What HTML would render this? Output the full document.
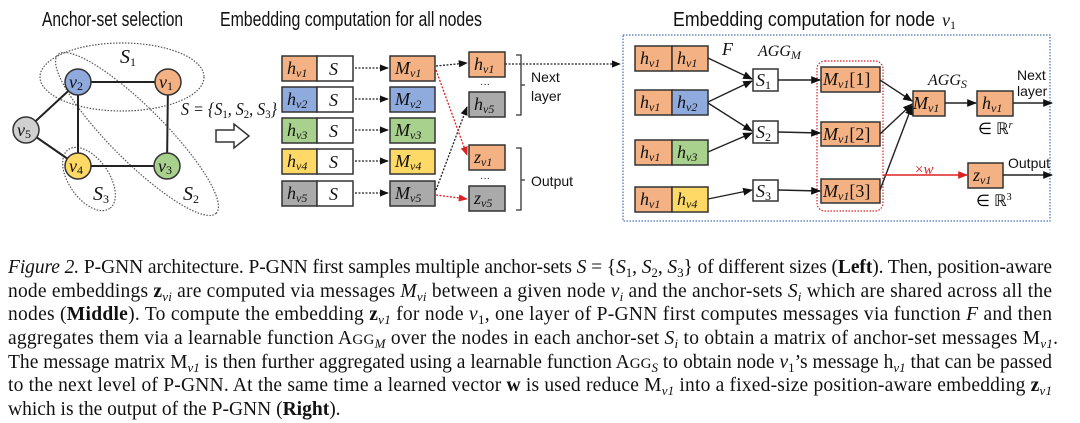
<!DOCTYPE html>
<html><head><meta charset="utf-8"><style>
html,body{margin:0;padding:0;background:#fff;}
svg{display:block;}
.t{font-family:"Liberation Sans",sans-serif;font-size:20px;fill:#111;}
.m{font-family:"Liberation Serif",serif;font-style:italic;font-size:18px;fill:#111;}
.sm{font-size:12px;}
.cap{font-family:"Liberation Serif",serif;font-size:19.5px;fill:#111;}
.lb{font-family:"Liberation Sans",sans-serif;font-size:14px;fill:#111;}
</style></head><body>
<svg width="1080" height="423" viewBox="0 0 1080 423" xmlns="http://www.w3.org/2000/svg">
<defs>
<marker id="a" viewBox="0 0 10 10" refX="9" refY="5" markerWidth="7" markerHeight="7" orient="auto"><path d="M0,1 L10,5 L0,9z" fill="#111"/></marker>
<marker id="r" viewBox="0 0 10 10" refX="9" refY="5" markerWidth="7" markerHeight="7" orient="auto"><path d="M0,1 L10,5 L0,9z" fill="#d22"/></marker>
</defs>
<text class="t" x="42" y="26" textLength="141" lengthAdjust="spacingAndGlyphs">Anchor-set selection</text>
<text class="t" x="220" y="26" textLength="262" lengthAdjust="spacingAndGlyphs">Embedding computation for all nodes</text>
<text class="t" x="673" y="26" textLength="262" lengthAdjust="spacingAndGlyphs">Embedding computation for node</text>
<text class="m" x="942" y="26" font-size="20">v<tspan class="sm" font-style="normal" dy="3">1</tspan></text>

<g fill="none" stroke="#555" stroke-width="1.2" stroke-dasharray="1.5 1.5">
<ellipse cx="122" cy="77" rx="82" ry="34"/>
<ellipse cx="137" cy="134" rx="112" ry="27" transform="rotate(45 137 134)"/>
<ellipse cx="89" cy="179" rx="36" ry="20" transform="rotate(55 89 179)"/>
</g>
<g stroke="#222" stroke-width="2">
<line x1="78" y1="82" x2="168" y2="82"/><line x1="168" y1="82" x2="167" y2="166"/>
<line x1="78" y1="166" x2="167" y2="166"/><line x1="78" y1="82" x2="78" y2="166"/>
<line x1="26" y1="130" x2="78" y2="82"/><line x1="26" y1="130" x2="78" y2="166"/>
</g>
<g stroke="#333" stroke-width="1.5">
<circle cx="78" cy="82" r="13" fill="#8faadc"/><circle cx="168" cy="82" r="13" fill="#f4b183"/>
<circle cx="26" cy="130" r="13" fill="#d0d0d0"/><circle cx="78" cy="166" r="13" fill="#ffd966"/>
<circle cx="167" cy="166" r="13" fill="#a9d18e"/>
</g>
<g class="m" text-anchor="middle">
<text x="76" y="88">v<tspan class="sm" font-style="normal" dy="2">2</tspan></text>
<text x="166" y="88">v<tspan class="sm" font-style="normal" dy="2">1</tspan></text>
<text x="24" y="136">v<tspan class="sm" font-style="normal" dy="2">5</tspan></text>
<text x="76" y="172">v<tspan class="sm" font-style="normal" dy="2">4</tspan></text>
<text x="165" y="172">v<tspan class="sm" font-style="normal" dy="2">3</tspan></text>
<text x="128" y="63" font-size="20">S<tspan class="sm" font-style="normal" dy="3">1</tspan></text>
<text x="191" y="200" font-size="20">S<tspan class="sm" font-style="normal" dy="3">2</tspan></text>
<text x="101" y="200" font-size="20">S<tspan class="sm" font-style="normal" dy="3">3</tspan></text>
</g>
<text class="m" x="181" y="115" font-size="16" textLength="96" lengthAdjust="spacingAndGlyphs">S = {S<tspan class="sm" font-style="normal" dy="3">1</tspan><tspan dy="-3">, S</tspan><tspan class="sm" font-style="normal" dy="3">2</tspan><tspan dy="-3">, S</tspan><tspan class="sm" font-style="normal" dy="3">3</tspan><tspan dy="-3">}</tspan></text>
<path d="M216,130 L234,130 L234,124 L249,136 L234,148 L234,142 L216,142 Z" fill="#fff" stroke="#333" stroke-width="1.5"/>

<g stroke="#333" stroke-width="1.5">
<rect x="282" y="56" width="35" height="25" fill="#f4b183"/><rect x="317" y="56" width="36" height="25" fill="#fff"/>
<rect x="282" y="87" width="35" height="25" fill="#8faadc"/><rect x="317" y="87" width="36" height="25" fill="#fff"/>
<rect x="282" y="118" width="35" height="25" fill="#a9d18e"/><rect x="317" y="118" width="36" height="25" fill="#fff"/>
<rect x="282" y="149" width="35" height="25" fill="#ffd966"/><rect x="317" y="149" width="36" height="25" fill="#fff"/>
<rect x="282" y="181" width="35" height="25" fill="#aaaaaa"/><rect x="317" y="181" width="36" height="25" fill="#fff"/>
<rect x="390" y="56" width="45" height="25" fill="#f4b183"/>
<rect x="390" y="87" width="45" height="25" fill="#8faadc"/>
<rect x="390" y="118" width="45" height="25" fill="#a9d18e"/>
<rect x="390" y="149" width="45" height="25" fill="#ffd966"/>
<rect x="390" y="181" width="45" height="25" fill="#aaaaaa"/>
<rect x="469" y="52" width="36" height="25" fill="#f4b183"/>
<rect x="469" y="92" width="36" height="25" fill="#aaaaaa"/>
<rect x="469" y="145" width="36" height="25" fill="#f4b183"/>
<rect x="469" y="186" width="36" height="25" fill="#aaaaaa"/>
</g>
<g class="m">
<text x="287" y="74">h<tspan class="sm" dy="3">v1</tspan></text>
<text x="287" y="105">h<tspan class="sm" dy="3">v2</tspan></text>
<text x="287" y="136">h<tspan class="sm" dy="3">v3</tspan></text>
<text x="287" y="167">h<tspan class="sm" dy="3">v4</tspan></text>
<text x="287" y="199">h<tspan class="sm" dy="3">v5</tspan></text>
<text x="329" y="75">S</text><text x="329" y="106">S</text><text x="329" y="137">S</text><text x="329" y="168">S</text><text x="329" y="200">S</text>
<text x="395" y="74">M<tspan class="sm" dy="3">v1</tspan></text>
<text x="395" y="105">M<tspan class="sm" dy="3">v2</tspan></text>
<text x="395" y="136">M<tspan class="sm" dy="3">v3</tspan></text>
<text x="395" y="167">M<tspan class="sm" dy="3">v4</tspan></text>
<text x="395" y="199">M<tspan class="sm" dy="3">v5</tspan></text>
<text x="474" y="70">h<tspan class="sm" dy="3">v1</tspan></text>
<text x="474" y="110">h<tspan class="sm" dy="3">v5</tspan></text>
<text x="474" y="163">z<tspan class="sm" dy="3">v1</tspan></text>
<text x="474" y="204">z<tspan class="sm" dy="3">v5</tspan></text>
</g>
<text x="480" y="87" font-family="Liberation Sans" font-size="10">···</text>
<text x="480" y="181" font-family="Liberation Sans" font-size="10">···</text>
<g stroke="#222" stroke-width="1.3" stroke-dasharray="2 1.5" marker-end="url(#a)" fill="none">
<line x1="355" y1="68" x2="388" y2="68"/><line x1="355" y1="99" x2="388" y2="99"/>
<line x1="355" y1="130" x2="388" y2="130"/><line x1="355" y1="161" x2="388" y2="161"/>
<line x1="355" y1="193" x2="388" y2="193"/>
<line x1="436" y1="66" x2="467" y2="63"/>
<line x1="436" y1="190" x2="467" y2="107"/>
<line x1="505" y1="64" x2="620" y2="64"/>
</g>
<g stroke="#d22" stroke-width="1.3" stroke-dasharray="2 1.5" marker-end="url(#r)" fill="none">
<line x1="436" y1="70" x2="467" y2="155"/>
<line x1="436" y1="195" x2="467" y2="199"/>
</g>
<g stroke="#333" stroke-width="1.3" fill="none">
<path d="M516,55 L521,55 L521,115 L516,115 M521,85 L525,85"/>
<path d="M516,148 L521,148 L521,210 L516,210 M521,180 L525,180"/>
</g>
<text class="lb" x="531" y="82">Next</text><text class="lb" x="531" y="101">layer</text>
<text class="lb" x="531" y="186">Output</text>

<rect x="623" y="35" width="427" height="186" fill="none" stroke="#4a6fb0" stroke-width="1.2" stroke-dasharray="1.5 1.5"/>
<rect x="817" y="61" width="66" height="150" rx="8" fill="none" stroke="#d22" stroke-width="1.2" stroke-dasharray="1.5 1.5"/>
<g stroke="#333" stroke-width="1.5">
<rect x="635" y="46" width="37" height="25" fill="#f4b183"/><rect x="672" y="46" width="36" height="25" fill="#f4b183"/>
<rect x="635" y="90" width="37" height="25" fill="#f4b183"/><rect x="672" y="90" width="36" height="25" fill="#8faadc"/>
<rect x="635" y="140" width="37" height="25" fill="#f4b183"/><rect x="672" y="140" width="36" height="25" fill="#a9d18e"/>
<rect x="635" y="187" width="37" height="25" fill="#f4b183"/><rect x="672" y="187" width="36" height="25" fill="#ffd966"/>
<rect x="753" y="69" width="25" height="22" fill="#fff"/>
<rect x="753" y="121" width="25" height="22" fill="#fff"/>
<rect x="753" y="180" width="25" height="21" fill="#fff"/>
<rect x="821" y="67" width="59" height="25" fill="#f4b183"/>
<rect x="821" y="122" width="59" height="24" fill="#f4b183"/>
<rect x="821" y="179" width="59" height="24" fill="#f4b183"/>
<rect x="913" y="91" width="32" height="25" fill="#f4b183"/>
<rect x="977" y="91" width="36" height="25" fill="#f4b183"/>
<rect x="968" y="163" width="35" height="25" fill="#f4b183"/>
</g>
<g class="m">
<text x="640" y="64">h<tspan class="sm" dy="3">v1</tspan></text><text x="677" y="64">h<tspan class="sm" dy="3">v1</tspan></text>
<text x="640" y="108">h<tspan class="sm" dy="3">v1</tspan></text><text x="677" y="108">h<tspan class="sm" dy="3">v2</tspan></text>
<text x="640" y="158">h<tspan class="sm" dy="3">v1</tspan></text><text x="677" y="158">h<tspan class="sm" dy="3">v3</tspan></text>
<text x="640" y="205">h<tspan class="sm" dy="3">v1</tspan></text><text x="677" y="205">h<tspan class="sm" dy="3">v4</tspan></text>
<text x="756" y="86">S<tspan class="sm" font-style="normal" dy="3">1</tspan></text>
<text x="756" y="138">S<tspan class="sm" font-style="normal" dy="3">2</tspan></text>
<text x="756" y="197">S<tspan class="sm" font-style="normal" dy="3">3</tspan></text>
<text x="823" y="85">M<tspan class="sm" dy="3">v1</tspan><tspan dy="-3" font-style="normal">[1]</tspan></text>
<text x="823" y="140">M<tspan class="sm" dy="3">v1</tspan><tspan dy="-3" font-style="normal">[2]</tspan></text>
<text x="823" y="197">M<tspan class="sm" dy="3">v1</tspan><tspan dy="-3" font-style="normal">[3]</tspan></text>
<text x="913" y="109">M<tspan class="sm" dy="3">v1</tspan></text>
<text x="982" y="109">h<tspan class="sm" dy="3">v1</tspan></text>
<text x="973" y="181">z<tspan class="sm" dy="3">v1</tspan></text>
<text x="722" y="55">F</text>
<text x="758" y="56" font-size="16">AGG<tspan class="sm" dy="3">M</tspan></text>
<text x="928" y="85" font-size="16">AGG<tspan class="sm" dy="3">S</tspan></text>
<text x="915" y="174" fill="#d22" font-style="normal" font-size="15">×<tspan font-style="italic">w</tspan></text>
</g>
<text x="978" y="134" font-family="Liberation Serif" font-size="16">∈ ℝ<tspan font-size="10" dy="-6" font-style="italic">r</tspan></text>
<text x="976" y="206" font-family="Liberation Serif" font-size="16">∈ ℝ<tspan font-size="10" dy="-6">3</tspan></text>
<text class="lb" x="1017" y="80">Next</text><text class="lb" x="1017" y="96">layer</text>
<text class="lb" x="1008" y="168">Output</text>
<g stroke="#222" stroke-width="1.4" fill="none" marker-end="url(#a)">
<line x1="708" y1="58" x2="752" y2="79"/>
<line x1="708" y1="102" x2="752" y2="81"/>
<line x1="708" y1="103" x2="752" y2="131"/>
<line x1="708" y1="152" x2="752" y2="133"/>
<line x1="708" y1="199" x2="752" y2="190"/>
<line x1="778" y1="80" x2="820" y2="80"/>
<line x1="778" y1="132" x2="820" y2="133"/>
<line x1="778" y1="190" x2="820" y2="191"/>
<line x1="880" y1="80" x2="912" y2="101"/>
<line x1="880" y1="134" x2="912" y2="104"/>
<line x1="880" y1="190" x2="912" y2="106"/>
<line x1="945" y1="103" x2="976" y2="103"/>
<line x1="1013" y1="103" x2="1052" y2="103"/>
<line x1="1003" y1="175" x2="1052" y2="175"/>
</g>
<line x1="883" y1="175" x2="967" y2="175" stroke="#d22" stroke-width="1.4" marker-end="url(#r)"/>

<g class="cap">
<text x="8" y="273" textLength="1044" lengthAdjust="spacing"><tspan font-style="italic">Figure 2.</tspan> P-GNN architecture. P-GNN first samples multiple anchor-sets <tspan font-style="italic">S</tspan> = {<tspan font-style="italic">S</tspan><tspan font-size="13" dy="4">1</tspan><tspan dy="-4">, </tspan><tspan font-style="italic">S</tspan><tspan font-size="13" dy="4">2</tspan><tspan dy="-4">, </tspan><tspan font-style="italic">S</tspan><tspan font-size="13" dy="4">3</tspan><tspan dy="-4">} of different sizes (</tspan><tspan font-weight="bold">Left</tspan>). Then, position-aware</text>
<text x="8" y="297" textLength="1044" lengthAdjust="spacing">node embeddings <tspan font-weight="bold">z</tspan><tspan font-size="13" font-style="italic" dy="4">vi</tspan><tspan dy="-4"> are computed via messages </tspan><tspan font-style="italic">M</tspan><tspan font-size="13" font-style="italic" dy="4">vi</tspan><tspan dy="-4"> between a given node </tspan><tspan font-style="italic">v</tspan><tspan font-size="13" font-style="italic" dy="4">i</tspan><tspan dy="-4"> and the anchor-sets </tspan><tspan font-style="italic">S</tspan><tspan font-size="13" font-style="italic" dy="4">i</tspan><tspan dy="-4"> which are shared across all the</tspan></text>
<text x="8" y="320" textLength="1044" lengthAdjust="spacing">nodes (<tspan font-weight="bold">Middle</tspan>). To compute the embedding <tspan font-weight="bold">z</tspan><tspan font-size="13" font-style="italic" dy="4">v1</tspan><tspan dy="-4"> for node </tspan><tspan font-style="italic">v</tspan><tspan font-size="13" dy="4">1</tspan><tspan dy="-4">, one layer of P-GNN first computes messages via function </tspan><tspan font-style="italic">F</tspan> and then</text>
<text x="8" y="344" textLength="1050" lengthAdjust="spacing">aggregates them via a learnable function A<tspan font-size="15">GG</tspan><tspan font-size="13" font-style="italic" dy="4">M</tspan><tspan dy="-4"> over the nodes in each anchor-set </tspan><tspan font-style="italic">S</tspan><tspan font-size="13" font-style="italic" dy="4">i</tspan><tspan dy="-4"> to obtain a matrix of anchor-set messages M</tspan><tspan font-size="13" font-style="italic" dy="4">v1</tspan><tspan dy="-4">.</tspan></text>
<text x="8" y="368" textLength="1044" lengthAdjust="spacing">The message matrix M<tspan font-size="13" font-style="italic" dy="4">v1</tspan><tspan dy="-4"> is then further aggregated using a learnable function A</tspan><tspan font-size="15">GG</tspan><tspan font-size="13" font-style="italic" dy="4">S</tspan><tspan dy="-4"> to obtain node </tspan><tspan font-style="italic">v</tspan><tspan font-size="13" dy="4">1</tspan><tspan dy="-4">’s message h</tspan><tspan font-size="13" font-style="italic" dy="4">v1</tspan><tspan dy="-4"> that can be passed</tspan></text>
<text x="8" y="391" textLength="1044" lengthAdjust="spacing">to the next level of P-GNN. At the same time a learned vector <tspan font-weight="bold">w</tspan> is used reduce M<tspan font-size="13" font-style="italic" dy="4">v1</tspan><tspan dy="-4"> into a fixed-size position-aware embedding </tspan><tspan font-weight="bold">z</tspan><tspan font-size="13" font-style="italic" dy="4">v1</tspan></text>
<text x="8" y="415">which is the output of the P-GNN (<tspan font-weight="bold">Right</tspan>).</text>
</g>
</svg>
</body></html>
